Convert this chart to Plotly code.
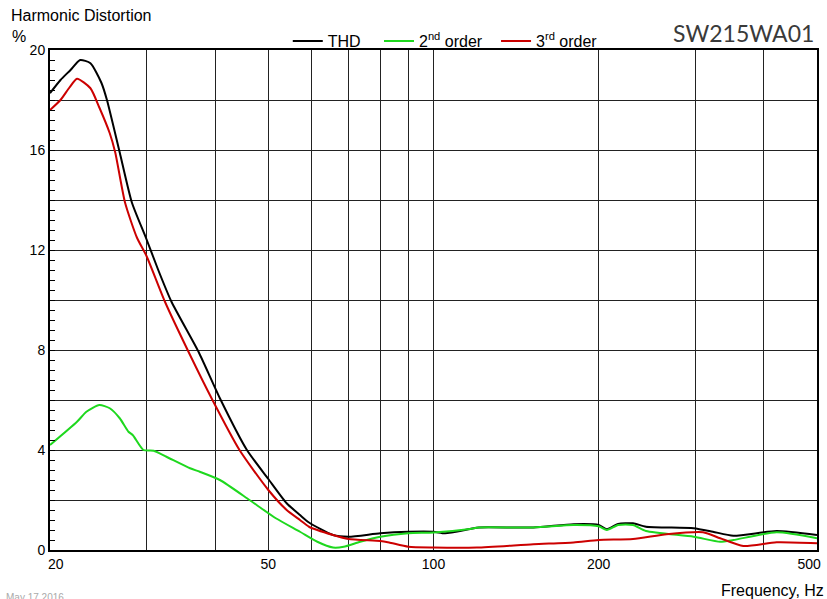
import plotly.graph_objects as go

# ---- data ----
thd_f = [20, 20.9, 21.8, 22.7, 23.7, 24.8, 25.4, 26.8, 28.2, 29.9, 31.5, 33.3, 37.3, 40.8,
         45.7, 50, 54, 57.1, 59.3, 65.6, 70, 80, 90, 100, 105, 116.6, 121, 152, 180, 200,
         207, 217, 231, 244, 298, 323, 352, 422, 500]
thd_v = [18.27, 18.8, 19.2, 19.6, 19.47, 18.7, 18.0, 15.9, 13.9, 12.5, 11.2, 9.93, 7.93, 6.07,
         4.0, 2.84, 1.87, 1.4, 1.1, 0.6, 0.53, 0.67, 0.73, 0.73, 0.67, 0.84, 0.9, 0.9, 1.03, 1.0,
         0.83, 1.04, 1.07, 0.93, 0.87, 0.73, 0.57, 0.76, 0.6]

h2_f = [20, 22.4, 23.3, 24.6, 25.7, 26.8, 27.8, 28.3, 29.6, 30.9, 32.6, 36, 37.5, 40.8, 46.2,
        51.6, 57.1, 61.4, 65.6, 68.6, 73.5, 80, 90, 100, 116.6, 121, 152, 180, 200, 207, 217,
        231, 244, 298, 333, 352, 422, 500]
h2_v = [4.2, 5.13, 5.53, 5.8, 5.67, 5.27, 4.73, 4.6, 4.0, 3.97, 3.73, 3.27, 3.13, 2.8, 2.0,
        1.27, 0.73, 0.33, 0.1, 0.13, 0.33, 0.53, 0.67, 0.7, 0.84, 0.9, 0.9, 1.0, 0.95, 0.8, 1.0,
        1.0, 0.76, 0.53, 0.33, 0.4, 0.71, 0.47]

h3_f = [20, 20.9, 21.7, 22.4, 23.7, 24.6, 25.7, 26.3, 27.4, 28.8, 30, 32.4, 36, 39.4, 44.3,
        50, 54, 57.1, 59.3, 65.6, 70, 80, 83, 90, 100, 120, 152, 180, 200, 231, 266, 310, 333,
        367, 422, 500]
h3_v = [17.6, 18.0, 18.5, 18.85, 18.47, 17.7, 16.67, 15.9, 13.9, 12.5, 11.75, 9.93, 7.8, 6.07, 4.0,
        2.4, 1.6, 1.2, 0.93, 0.6, 0.44, 0.36, 0.3, 0.13, 0.1, 0.1, 0.23, 0.3, 0.4, 0.44, 0.63, 0.71,
        0.47, 0.16, 0.31, 0.27]

x_tick_vals = [20, 50, 100, 200, 500]
x_tick_text = ["\u00a0\u00a0\u00a020", "50", "100", "200", "500\u00a0\u00a0\u00a0\u00a0"]
x_minor_vals = [30, 40, 60, 70, 80, 90, 300, 400]
y_tick_vals = [0, 2, 4, 6, 8, 10, 12, 14, 16, 18, 20]
y_tick_text = ["0", "", "4", "", "8", "", "12", "", "16", "", "20"]

NB = "\u00a0"
FONT = "Liberation Sans, Arial, sans-serif"

fig = go.Figure()
fig.add_trace(go.Scatter(x=thd_f, y=thd_v, mode="lines", name="THD" + NB * 3,
                         line=dict(color="#000000", width=2, shape="spline", smoothing=0.6)))
fig.add_trace(go.Scatter(x=h2_f, y=h2_v, mode="lines", name="2<sup>nd</sup> order" + NB * 2,
                         line=dict(color="#1ed81e", width=2, shape="spline", smoothing=0.6)))
fig.add_trace(go.Scatter(x=h3_f, y=h3_v, mode="lines", name="3<sup>rd</sup> order",
                         line=dict(color="#cc0000", width=2, shape="spline", smoothing=0.6)))

fig.update_layout(
    width=827, height=599,
    margin=dict(l=50, r=10, t=50, b=49, autoexpand=False),
    paper_bgcolor="white", plot_bgcolor="white",
    font=dict(family=FONT, size=14, color="black"),
    showlegend=True,
    legend=dict(orientation="h", x=0.31, xanchor="left", y=1.018, yanchor="middle",
                font=dict(family=FONT, size=16, color="black"),
                bgcolor="rgba(0,0,0,0)", itemwidth=30, tracegroupgap=0),
    xaxis=dict(type="log", range=[1.3010299, 2.6989701], automargin=False,
               tickmode="array", tickvals=x_tick_vals, ticktext=x_tick_text,
               ticklabeloverflow="allow",
               showgrid=True, gridcolor="#222222", gridwidth=1,
               ticks="", showline=True, linecolor="black", linewidth=2, mirror=True,
               tickfont=dict(family=FONT, size=14, color="black"),
               minor=dict(tickmode="array", tickvals=x_minor_vals, showgrid=True,
                          gridcolor="#222222", gridwidth=1, ticks=""),
               zeroline=False),
    yaxis=dict(range=[0, 20], tickmode="array", tickvals=y_tick_vals, ticktext=y_tick_text,
               automargin=False,
               showgrid=True, gridcolor="#222222", gridwidth=1,
               ticks="inside", ticklen=5, tickcolor="black",
               showline=True, linecolor="black", linewidth=2, mirror=True,
               tickfont=dict(family=FONT, size=14, color="black"),
               minor=dict(dtick=0.4, tick0=0, ticks="inside", ticklen=5, tickcolor="black",
                          showgrid=False),
               zeroline=False),
)

def px(x):
    return (x - 50) / 767.0

def py(y):
    return (550 - y) / 500.0

fig.add_annotation(x=px(9), y=py(16), xref="paper", yref="paper", text="Harmonic Distortion",
                   showarrow=False, xanchor="left", yanchor="middle",
                   font=dict(family=FONT, size=16, color="black"))
fig.add_annotation(x=px(10), y=py(37), xref="paper", yref="paper", text="%",
                   showarrow=False, xanchor="left", yanchor="middle",
                   font=dict(family=FONT, size=16, color="black"))
fig.add_annotation(x=px(826), y=py(590), xref="paper", yref="paper", text="Frequency, Hz",
                   showarrow=False, xanchor="right", yanchor="middle",
                   font=dict(family=FONT, size=16, color="black"))
fig.add_annotation(x=px(4), y=py(590), xref="paper", yref="paper", text="May 17 2016",
                   showarrow=False, xanchor="left", yanchor="top",
                   font=dict(family=FONT, size=10, color="#aaaaaa"))
fig.add_annotation(x=px(816), y=py(33), xref="paper", yref="paper", text="SW215WA01",
                   showarrow=False, xanchor="right", yanchor="middle",
                   font=dict(family="Lato, Open Sans, sans-serif", size=23, color="#3a3a3a"))

fig.write_html("out.html", config={"displayModeBar": False},
               post_script="document.body.style.margin='0';")
